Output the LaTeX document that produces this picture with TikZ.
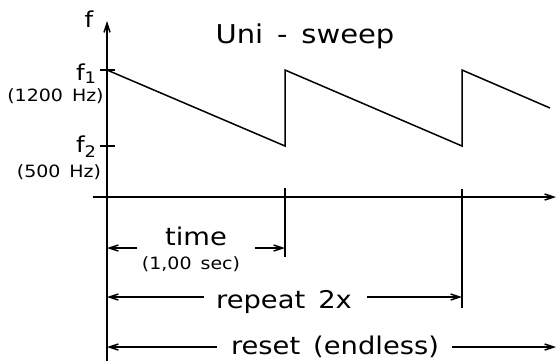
\documentclass[tikz,border=0pt]{standalone}
\usepackage{fontspec}
\setmainfont[FakeStretch=1.12,WordSpace=1.5]{DejaVu Sans}
\newcommand{\subsfont}{\fontsize{16}{18}\selectfont}
\usetikzlibrary{arrows.meta}
\begin{document}
\begin{tikzpicture}[x=1bp,y=-1bp,line width=1.5bp,
  tip/.style={-{Straight Barb[length=9bp,width=6bp]}},
  big/.style={font=\fontsize{24.5}{28}\selectfont,inner sep=0pt,anchor=base},
  small/.style={font=\fontsize{17}{19}\selectfont,inner sep=0pt,anchor=base},
  lab/.style={font=\fontsize{22}{24}\selectfont,inner sep=0pt,anchor=base}]
\useasboundingbox (0,0) rectangle (557,360);
% axes
\coordinate (vb) at (107,362);
\coordinate (vt) at (107,21);
\coordinate (hl) at (93,197);
\coordinate (hr) at (556,197);
\draw[tip] (vb) -- (vt);
\draw[tip] (hl) -- (hr);
% ticks
\coordinate (t1a) at (100,70);
\coordinate (t1b) at (115,70);
\coordinate (t2a) at (100,146);
\coordinate (t2b) at (115,146);
\draw (t1a) -- (t1b);
\draw (t2a) -- (t2b);
% sawtooth
\coordinate (s0) at (107,70);
\coordinate (s1) at (285,146);
\coordinate (s2) at (285,70);
\coordinate (s3) at (462,146);
\coordinate (s4) at (462,70);
\coordinate (s5) at (550,108);
\draw[line join=miter] (s0) -- (s1) -- (s2) -- (s3) -- (s4) -- (s5);
% markers
\coordinate (m1a) at (285,188);
\coordinate (m1b) at (285,257);
\coordinate (m2a) at (462,189);
\coordinate (m2b) at (462,308);
\draw (m1a) -- (m1b);
\draw (m2a) -- (m2b);
% labels
\node[lab] (fl) at (89,27) {f};
\node[lab] (f1) at (86,80) {f\raisebox{-3bp}{\subsfont 1}};
\node[lab] (f2) at (86,152) {f\raisebox{-5bp}{\subsfont 2}};
\node[small] (hz1) at (55.5,101) {(1200 Hz)};
\node[small] (hz2) at (59,177) {(500 Hz)};
\node[big,font=\fontsize{26}{30}\selectfont] (title) at (305,43) {Uni - sweep};
\node[big] (time) at (196,245) {time};
\node[small] (sec) at (191,269) {(1,00 sec)};
\node[big] (rep) at (284,308) {repeat 2x};
\node[big] (res) at (335,354) {reset (endless)};
% dimension arrows
\coordinate (ta) at (137,248);
\coordinate (tl) at (107,248);
\coordinate (tb) at (255,248);
\coordinate (tr) at (285,248);
\draw[tip] (ta) -- (tl);
\draw[tip] (tb) -- (tr);
\coordinate (ra) at (204,297);
\coordinate (rl) at (107,297);
\coordinate (rb) at (367,297);
\coordinate (rr) at (462,297);
\draw[tip] (ra) -- (rl);
\draw[tip] (rb) -- (rr);
\coordinate (ea) at (217,347);
\coordinate (el) at (107,347);
\coordinate (eb) at (452,347);
\coordinate (er) at (556,347);
\draw[tip] (ea) -- (el);
\draw[tip] (eb) -- (er);
\end{tikzpicture}
\end{document}
